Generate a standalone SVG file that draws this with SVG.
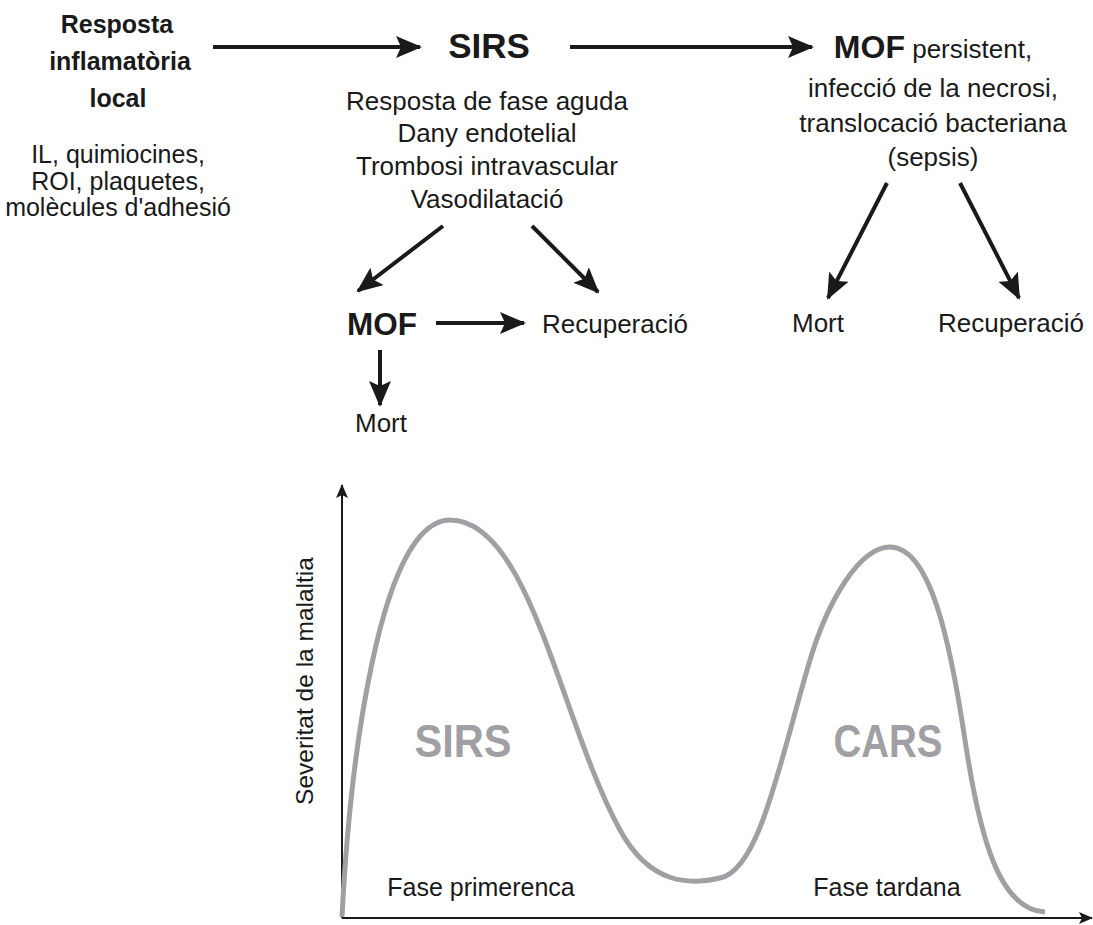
<svg xmlns="http://www.w3.org/2000/svg" width="1093" height="925" viewBox="0 0 1093 925">
<defs>
<style>
text{font-family:"Liberation Sans",Arial,sans-serif;fill:#1a1a1a;text-anchor:middle}
.b{font-weight:bold}
.t{font-size:26px}
.s{font-size:25px}
.g{fill:#a0a0a4;font-weight:bold;font-size:46px}
.arr{stroke:#1a1a1a;stroke-width:4;fill:none;marker-end:url(#ah)}
.ax{stroke:#1a1a1a;stroke-width:2;fill:none;marker-end:url(#axh)}
</style>
<marker id="ah" viewBox="0 0 26 22" refX="24" refY="11" markerWidth="26" markerHeight="22" markerUnits="userSpaceOnUse" orient="auto">
<path d="M0,0 L26,11 L0,22 L5,11 z" fill="#1a1a1a"/>
</marker>
<marker id="axh" viewBox="0 0 14 12" refX="13" refY="6" markerWidth="14" markerHeight="12" markerUnits="userSpaceOnUse" orient="auto">
<path d="M0,0 L14,6 L0,12 L3,6 z" fill="#1a1a1a"/>
</marker>
</defs>
<rect width="1093" height="925" fill="#fff"/>

<g id="local">
<text class="b" x="117" y="33" font-size="25">Resposta</text>
<text class="b" x="120" y="70" font-size="25">inflamatòria</text>
<text class="b" x="118" y="107" font-size="25">local</text>
<text class="s" x="118" y="163">IL, quimiocines,</text>
<text class="s" x="118" y="190">ROI, plaquetes,</text>
<text class="s" x="118" y="216">molècules d'adhesió</text>
</g>

<g id="sirs">
<text class="b" x="489" y="58" font-size="35">SIRS</text>
<text class="t" x="487" y="110">Resposta de fase aguda</text>
<text class="t" x="487" y="142">Dany endotelial</text>
<text class="t" x="487" y="175">Trombosi intravascular</text>
<text class="t" x="487" y="208">Vasodilatació</text>
</g>

<g id="mof-persistent">
<text class="t" x="933" y="58"><tspan class="b" font-size="32">MOF</tspan> persistent,</text>
<text class="t" x="933" y="97">infecció de la necrosi,</text>
<text class="t" x="933" y="132">translocació bacteriana</text>
<text class="t" x="933" y="166">(sepsis)</text>
</g>

<g id="mof">
<text class="b" x="382" y="335" font-size="31.5">MOF</text>
</g>
<g id="recuperacio1">
<text class="t" x="542" y="333" text-anchor="start" style="text-anchor:start">Recuperació</text>
</g>
<g id="mort1">
<text class="t" x="381" y="432">Mort</text>
</g>
<g id="mort2">
<text class="t" x="818" y="332">Mort</text>
</g>
<g id="recuperacio2">
<text class="t" x="938" y="332" style="text-anchor:start">Recuperació</text>
</g>

<g id="connectors">
<line class="arr" x1="213" y1="47" x2="420" y2="47"/>
<line class="arr" x1="570" y1="47" x2="812" y2="47"/>
<line class="arr" x1="443" y1="226" x2="358" y2="291"/>
<line class="arr" x1="532" y1="226" x2="598" y2="292"/>
<line class="arr" x1="436" y1="323" x2="524" y2="323"/>
<line class="arr" x1="380" y1="350" x2="380" y2="405"/>
<line class="arr" x1="887" y1="183" x2="828" y2="298"/>
<line class="arr" x1="960" y1="183" x2="1019" y2="298"/>
</g>

<g id="chart">
<line class="ax" x1="342" y1="918" x2="342" y2="485"/>
<line class="ax" x1="342" y1="918" x2="1092" y2="918"/>
<path d="M342,917 C350,760 380,520 450,520 C530,520 560,720 620,830 C650,885 690,885 720,878 C760,870 780,760 810,660 C828,600 860,547 890,547 C930,547 950,640 965,740 C980,840 1000,910 1045,912" fill="none" stroke="#a0a0a4" stroke-width="5"/>
<text class="g" x="463" y="757" textLength="97" lengthAdjust="spacingAndGlyphs">SIRS</text>
<text class="g" x="888" y="757" textLength="109" lengthAdjust="spacingAndGlyphs">CARS</text>
<text class="s" x="481" y="896">Fase primerenca</text>
<text class="s" x="887" y="896">Fase tardana</text>
<text font-size="24.5" transform="translate(313,681) rotate(-90)">Severitat de la malaltia</text>
</g>
</svg>
